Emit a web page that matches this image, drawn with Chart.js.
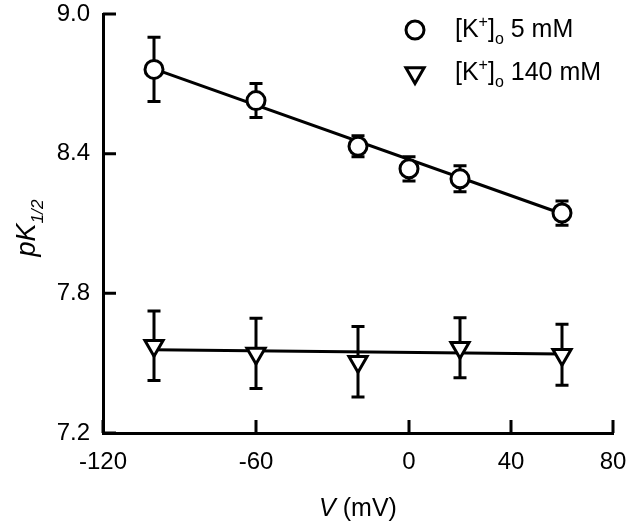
<!DOCTYPE html>
<html>
<head>
<meta charset="utf-8">
<script src="https://cdn.jsdelivr.net/npm/chart.js@4/dist/chart.umd.min.js"></script>
<style>
  body { margin: 0; background: #fff; }
  #wrap { width: 630px; height: 525px; }
</style>
</head>
<body>
<div id="wrap"><canvas id="Chart" width="630" height="525"></canvas></div>
<script>
const voltages5 = [-100, -60, -20, 0, 20, 60];
const pK5 = [8.762, 8.628, 8.432, 8.335, 8.292, 8.145];
const err5 = [0.138, 0.073, 0.045, 0.052, 0.056, 0.052];

const voltages140 = [-100, -60, -20, 20, 60];
const pK140 = [7.575, 7.542, 7.506, 7.566, 7.536];
const err140 = [0.149, 0.151, 0.151, 0.129, 0.131];

const fitV = [-100, 60];
const fit5 = [8.764, 8.142];
const fit140 = [7.558, 7.539];

const xTicks = [-120, -60, 0, 40, 80];
const yTicks = [7.2, 7.8, 8.4, 9.0];

const FONT = "'Liberation Sans', Arial, sans-serif";
const LW = 3;
const ctx = document.getElementById("Chart");

const toPoints = (xs, ys) => xs.map((x, i) => ({ x: x, y: ys[i] }));

// text with italic / sub / sup pieces
function drawRich(c, x, y, segs, size) {
  let cx = x;
  segs.forEach((s) => {
    const sz = s.sub || s.sup ? size * 0.64 : size;
    c.font = (s.it ? "italic " : "") + sz + "px " + FONT;
    let dy = 0;
    if (s.sub) dy = size * 0.28;
    if (s.sup) dy = -size * 0.42;
    c.fillText(s.t, cx, y + dy);
    cx += c.measureText(s.t).width;
  });
  return cx - x;
}

function richWidth(c, segs, size) {
  let w = 0;
  segs.forEach((s) => {
    const sz = s.sub || s.sup ? size * 0.64 : size;
    c.font = (s.it ? "italic " : "") + sz + "px " + FONT;
    w += c.measureText(s.t).width;
  });
  return w;
}

const errorBars = {
  id: "errorBars",
  beforeDatasetsDraw(chart) {
    const c = chart.ctx;
    const xs = chart.scales.x;
    const ys = chart.scales.y;
    const sets = [
      [voltages5, pK5, err5],
      [voltages140, pK140, err140],
    ];
    c.save();
    c.strokeStyle = "#000";
    c.lineWidth = LW;
    sets.forEach(([vx, vy, ve]) => {
      vx.forEach((v, i) => {
        const px = xs.getPixelForValue(v);
        const top = ys.getPixelForValue(vy[i] + ve[i]);
        const bot = ys.getPixelForValue(vy[i] - ve[i]);
        c.beginPath();
        c.moveTo(px, top);
        c.lineTo(px, bot);
        c.moveTo(px - 6.5, top);
        c.lineTo(px + 6.5, top);
        c.moveTo(px - 6.5, bot);
        c.lineTo(px + 6.5, bot);
        c.stroke();
      });
    });
    c.restore();
  },
};

const decorations = {
  id: "decorations",
  afterDraw(chart) {
    const c = chart.ctx;
    const xs = chart.scales.x;
    const ys = chart.scales.y;
    const area = chart.chartArea;
    c.save();
    c.strokeStyle = "#000";
    c.fillStyle = "#000";
    c.lineWidth = LW;

    // ticks pointing inward
    c.beginPath();
    xTicks.forEach((v) => {
      const px = xs.getPixelForValue(v);
      c.moveTo(px, area.bottom);
      c.lineTo(px, area.bottom - 13);
    });
    yTicks.forEach((v) => {
      const py = ys.getPixelForValue(v);
      c.moveTo(area.left, py);
      c.lineTo(area.left + 13, py);
    });
    c.stroke();

    // axis titles
    c.textBaseline = "alphabetic";
    const xt = [{ t: "V", it: true }, { t: " (mV)" }];
    const xw = richWidth(c, xt, 25);
    drawRich(c, (area.left + area.right) / 2 - xw / 2, 516, xt, 25);

    const yt = [{ t: "pK", it: true }, { t: "1/2", it: true, sub: true }];
    const yw = richWidth(c, yt, 27);
    c.save();
    c.translate(35, 228);
    c.rotate(-Math.PI / 2);
    drawRich(c, -yw / 2, 0, yt, 27);
    c.restore();

    // legend
    const rows = [
      { style: "circle", r: 9, rot: 0, y: 30, txt: "5 mM" },
      { style: "triangle", r: 10.5, rot: 180, y: 73, txt: "140 mM" },
    ];
    rows.forEach((row) => {
      c.fillStyle = "#fff";
      c.strokeStyle = "#000";
      c.lineWidth = LW;
      Chart.helpers.drawPoint(c, { pointStyle: row.style, radius: row.r, rotation: row.rot, borderWidth: LW }, 415, row.y);
      c.fillStyle = "#000";
      drawRich(c, 455, row.y + 7, [
        { t: "[K" },
        { t: "+", sup: true },
        { t: "]" },
        { t: "o", sub: true },
        { t: " " + row.txt },
      ], 25);
    });
    c.restore();
  },
};

const chart = new Chart(ctx, {
  type: "line",
  data: {
    datasets: [
      {
        label: "[K+]o 5 mM",
        data: toPoints(voltages5, pK5),
        showLine: false,
        pointStyle: "circle",
        pointRadius: 9,
        pointBorderWidth: LW,
        pointBackgroundColor: "#fff",
        pointBorderColor: "#000",
        order: 1,
      },
      {
        label: "[K+]o 140 mM",
        data: toPoints(voltages140, pK140),
        showLine: false,
        pointStyle: "triangle",
        pointRotation: 180,
        pointRadius: 10.5,
        pointBorderWidth: LW,
        pointBackgroundColor: "#fff",
        pointBorderColor: "#000",
        order: 1,
      },
      {
        label: "fit 5",
        data: toPoints(fitV, fit5),
        borderColor: "#000",
        borderWidth: LW,
        pointRadius: 0,
        tension: 0,
        order: 2,
      },
      {
        label: "fit 140",
        data: toPoints(fitV, fit140),
        borderColor: "#000",
        borderWidth: LW,
        pointRadius: 0,
        tension: 0,
        order: 2,
      },
    ],
  },
  options: {
    responsive: false,
    animation: false,
    layout: { padding: { top: 14, right: 17, left: 0, bottom: 0 } },
    plugins: {
      legend: { display: false },
      tooltip: { enabled: false },
    },
    scales: {
      x: {
        type: "linear",
        min: -120,
        max: 80,
        afterBuildTicks: (s) => {
          s.ticks = xTicks.map((v) => ({ value: v }));
        },
        afterFit: (s) => {
          s.height = 92;
          s.paddingLeft = 0;
          s.paddingRight = 0;
        },
        grid: { display: false, drawTicks: false },
        border: { display: true, color: "#000", width: LW },
        ticks: {
          color: "#000",
          font: { size: 24, family: FONT },
          padding: 15,
          maxRotation: 0,
          autoSkip: false,
        },
      },
      y: {
        type: "linear",
        min: 7.2,
        max: 9.0,
        afterBuildTicks: (s) => {
          s.ticks = yTicks.map((v) => ({ value: v }));
        },
        afterFit: (s) => {
          s.width = 103;
          s.paddingTop = 0;
          s.paddingBottom = 0;
        },
        grid: { display: false, drawTicks: false },
        border: { display: true, color: "#000", width: LW },
        ticks: {
          color: "#000",
          font: { size: 24, family: FONT },
          padding: 13,
          callback: (v) => v.toFixed(1),
        },
      },
    },
  },
  plugins: [errorBars, decorations],
});
</script>
</body>
</html>
